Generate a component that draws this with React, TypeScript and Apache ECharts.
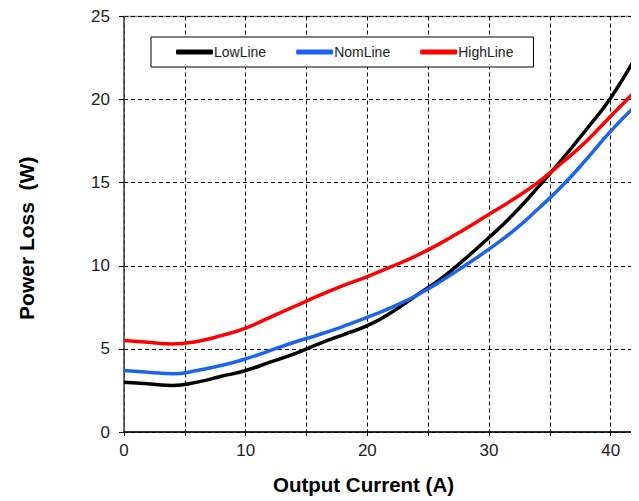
import React, { useEffect, useRef } from "react";
import * as echarts from "echarts";

const currents = [0, 2, 4, 6, 8, 10, 12, 14, 16, 18, 20, 22, 24, 26, 28, 30, 32, 34, 36, 38, 40, 42];
const lowLine = [3.0, 2.9, 2.8, 3.0, 3.35, 3.7, 4.2, 4.7, 5.3, 5.85, 6.4, 7.2, 8.2, 9.2, 10.4, 11.7, 13.1, 14.7, 16.4, 18.2, 20.1, 22.5];
const nomLine = [3.7, 3.6, 3.5, 3.7, 4.0, 4.4, 4.9, 5.4, 5.85, 6.35, 6.9, 7.5, 8.2, 9.05, 10.0, 11.0, 12.1, 13.4, 14.8, 16.4, 18.1, 19.6];
const highLine = [5.5, 5.4, 5.3, 5.45, 5.8, 6.25, 6.9, 7.55, 8.2, 8.8, 9.35, 9.95, 10.6, 11.35, 12.2, 13.1, 14.0, 15.0, 16.2, 17.5, 19.0, 20.5];
const seriesNames = ["LowLine", "NomLine", "HighLine"];
const seriesColors = ["#000000", "#1a64f0", "#ff0000"];

export default function App() {
  const ref = useRef<HTMLDivElement>(null);
  useEffect(() => {
    if (!ref.current) return;
    const chart = echarts.init(ref.current, null, { renderer: "svg" });
    const datasets = [lowLine, nomLine, highLine];
    chart.setOption({
      animation: false,
      backgroundColor: "#ffffff",
      textStyle: { fontFamily: "Liberation Sans, Arial, sans-serif" },
      grid: {
        left: 115,
        top: 7,
        width: 512,
        height: 417,
        show: true,
        borderColor: "#8c8c8c",
        borderWidth: 1.5,
      },
      legend: {
        left: 143,
        top: 29,
        width: 395,
        height: 31,
        padding: [8, 20, 8, 25],
        borderColor: "#000",
        borderWidth: 1,
        backgroundColor: "#fff",
        itemWidth: 37,
        itemHeight: 5,
        itemGap: 30,
        icon: "roundRect",
        textStyle: { fontSize: 14, color: "#222", padding: [0, 0, 0, -4] },
        data: seriesNames,
      },
      xAxis: {
        type: "value",
        min: 0,
        max: 42,
        interval: 5,
        name: "Output Current (A)",
        nameLocation: "middle",
        nameGap: 42,
        nameTextStyle: { fontSize: 20.5, fontWeight: "bold", color: "#000", padding: [0, 32, 0, 0] },
        axisLine: { show: true, onZero: false, lineStyle: { color: "#000", width: 1.5 } },
        axisTick: { show: true, length: 4, lineStyle: { color: "#000" } },
        axisLabel: {
          fontSize: 17,
          color: "#222",
          margin: 10,
          formatter: (v: number) => (v % 10 === 0 ? String(v) : ""),
        },
        splitLine: { show: true, lineStyle: { color: "#000", type: [4, 3], width: 1 } },
      },
      yAxis: {
        type: "value",
        min: 0,
        max: 25,
        interval: 5,
        name: "Power Loss  (W)",
        nameLocation: "middle",
        nameGap: 87,
        nameTextStyle: { fontSize: 21, fontWeight: "bold", color: "#000", padding: [0, 28, 0, 0] },
        axisLine: { show: true, lineStyle: { color: "#555", width: 1.5 } },
        axisTick: { show: true, length: 5, inside: false, lineStyle: { color: "#000" } },
        axisLabel: { fontSize: 17, color: "#222", margin: 14 },
        splitLine: { show: true, lineStyle: { color: "#000", type: [4, 3], width: 1 } },
      },
      series: datasets.map((d, i) => ({
        name: seriesNames[i],
        type: "line",
        smooth: true,
        showSymbol: false,
        symbol: "none",
        color: seriesColors[i],
        lineStyle: { width: 3.5, color: seriesColors[i] },
        data: currents.map((x, j) => [x, d[j]]),
      })),
    });
    return () => chart.dispose();
  }, []);
  return <div ref={ref} style={{ width: 631, height: 493 }} />;
}
